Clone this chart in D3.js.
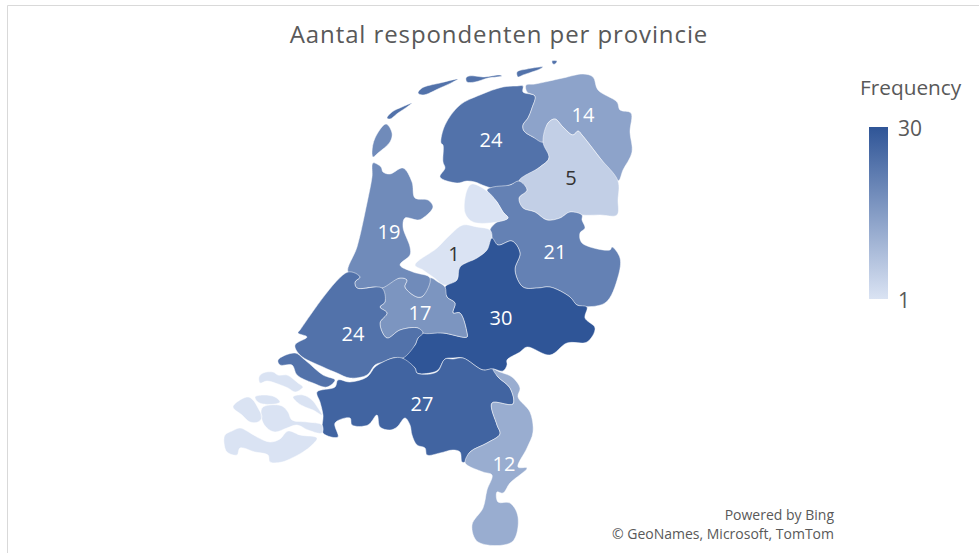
<!DOCTYPE html>
<html>
<head>
<meta charset="utf-8">
<script src="https://cdn.jsdelivr.net/npm/d3@7"></script>
<style>
  body { margin: 0; background: #fff; }
  text { font-family: "Open Sans", sans-serif; }
</style>
</head>
<body>
<div id="chart"></div>
<script>
// outlines are rough [lon, lat] rings
const friesland = [[[6.23,53.384],[6.23,53.348],[6.35,53.324],[6.32,53.252],[6.28,53.192],[6.23,53.15],[6.24,53.114],[6.33,53.078],[6.43,53.048],[6.49,52.952],[6.40,52.898],[6.19,52.814],[6.10,52.79],[5.97,52.766],[5.85,52.784],[5.75,52.808],[5.67,52.814],[5.57,52.802],[5.40,52.838],[5.45,52.892],[5.43,52.928],[5.43,53.03],[5.41,53.042],[5.45,53.15],[5.60,53.27],[5.80,53.33],[6.03,53.378],[6.17,53.384]],
  [[4.87,53.192],[4.92,53.228],[5.02,53.258],[5.12,53.282],[5.07,53.258],[4.98,53.222],[4.90,53.186]],
  [[5.18,53.342],[5.22,53.372],[5.40,53.402],[5.58,53.426],[5.53,53.408],[5.40,53.372],[5.23,53.33]],
  [[5.66,53.432],[5.69,53.444],[5.75,53.444],[5.83,53.438],[6.00,53.45],[6.02,53.444],[5.88,53.432],[5.75,53.408],[5.67,53.408]],
  [[6.17,53.468],[6.27,53.486],[6.43,53.498],[6.40,53.486],[6.23,53.45],[6.18,53.438]],
  [[6.52,53.534],[6.57,53.534],[6.55,53.516],[6.53,53.516]]]
const groningen = [[[6.26,53.39],[6.35,53.396],[6.63,53.432],[6.83,53.456],[6.93,53.438],[6.98,53.36],[7.17,53.288],[7.20,53.24],[7.31,53.222],[7.30,53.108],[7.32,52.988],[7.23,52.88],[7.18,52.814],[7.00,52.952],[6.82,53.09],[6.78,53.114],[6.73,53.09],[6.63,53.138],[6.55,53.186],[6.48,53.162],[6.43,53.048],[6.33,53.078],[6.24,53.114],[6.23,53.15],[6.28,53.192],[6.32,53.252],[6.35,53.324],[6.27,53.348]]]
const drenthe = [[[6.55,53.186],[6.63,53.138],[6.73,53.09],[6.78,53.114],[6.82,53.09],[7.00,52.952],[7.18,52.814],[7.18,52.70],[7.17,52.61],[7.00,52.61],[6.82,52.61],[6.70,52.628],[6.60,52.592],[6.47,52.58],[6.35,52.628],[6.23,52.652],[6.19,52.712],[6.27,52.76],[6.19,52.814],[6.40,52.898],[6.49,52.952],[6.43,53.048],[6.48,53.162]]]
const overijssel = [[[5.87,52.76],[5.93,52.778],[6.10,52.79],[6.19,52.814],[6.27,52.76],[6.19,52.712],[6.23,52.652],[6.35,52.628],[6.47,52.58],[6.60,52.592],[6.70,52.628],[6.82,52.61],[6.82,52.58],[6.85,52.532],[6.80,52.502],[6.82,52.442],[7.10,52.40],[7.12,52.418],[7.20,52.352],[7.18,52.238],[7.05,52.082],[6.77,52.07],[6.70,52.118],[6.50,52.178],[6.38,52.172],[6.23,52.178],[6.15,52.28],[6.20,52.382],[6.12,52.454],[5.98,52.43],[5.92,52.472],[5.90,52.52],[5.97,52.568],[6.08,52.592],[6.03,52.628],[5.97,52.688]]]
const flevoland = [[[5.67,52.76],[5.72,52.796],[5.87,52.754],[5.97,52.688],[6.03,52.628],[6.08,52.592],[5.97,52.568],[5.73,52.568],[5.65,52.622]],
  [[5.15,52.31],[5.37,52.412],[5.50,52.49],[5.63,52.55],[5.77,52.538],[5.90,52.52],[5.92,52.472],[5.87,52.40],[5.77,52.352],[5.60,52.298],[5.57,52.22],[5.45,52.19],[5.33,52.238],[5.23,52.28]]]
const gelderland = [[[5.45,52.178],[5.57,52.22],[5.60,52.298],[5.77,52.352],[5.87,52.40],[5.92,52.472],[5.98,52.43],[6.12,52.454],[6.20,52.382],[6.15,52.28],[6.23,52.178],[6.38,52.172],[6.50,52.178],[6.70,52.118],[6.77,52.07],[6.87,52.058],[6.85,51.992],[6.95,51.932],[6.87,51.848],[6.67,51.842],[6.50,51.77],[6.27,51.818],[6.20,51.788],[6.07,51.74],[6.07,51.71],[6.03,51.674],[5.93,51.686],[5.83,51.68],[5.63,51.752],[5.53,51.752],[5.45,51.746],[5.38,51.68],[5.30,51.662],[5.17,51.662],[5.15,51.692],[5.03,51.752],[5.15,51.83],[5.18,51.872],[5.23,51.902],[5.43,51.902],[5.67,51.878],[5.67,51.902],[5.60,52.022],[5.53,52.022],[5.55,52.082],[5.47,52.118]]]
const utrecht = [[[4.82,52.172],[5.00,52.232],[5.07,52.22],[5.05,52.178],[5.17,52.118],[5.23,52.124],[5.30,52.232],[5.38,52.208],[5.45,52.178],[5.47,52.118],[5.55,52.082],[5.53,52.022],[5.60,52.022],[5.67,51.902],[5.67,51.878],[5.43,51.902],[5.23,51.902],[5.18,51.932],[5.00,51.92],[4.87,51.872],[4.80,51.962],[4.87,52.022],[4.80,52.058],[4.85,52.088]]]
const noordHolland = [[[4.73,52.922],[4.81,52.898],[4.83,52.868],[4.90,52.856],[5.03,52.892],[5.12,52.808],[5.15,52.712],[5.28,52.70],[5.33,52.658],[5.23,52.592],[5.18,52.58],[5.05,52.592],[5.03,52.538],[5.10,52.418],[5.10,52.37],[5.00,52.31],[5.13,52.268],[5.30,52.232],[5.23,52.124],[5.17,52.118],[5.05,52.178],[5.07,52.22],[5.00,52.232],[4.82,52.172],[4.75,52.178],[4.57,52.172],[4.55,52.208],[4.60,52.238],[4.48,52.268],[4.57,52.418],[4.67,52.682],[4.72,52.838]],
  [[4.86,53.156],[4.92,53.102],[4.90,53.048],[4.78,52.982],[4.73,52.958],[4.72,52.988],[4.75,53.072]]]
const zuidHolland = [[[4.48,52.268],[4.60,52.238],[4.55,52.208],[4.57,52.172],[4.82,52.172],[4.85,52.088],[4.80,52.058],[4.87,52.022],[4.80,51.962],[4.87,51.872],[5.00,51.92],[5.18,51.932],[5.23,51.902],[5.18,51.872],[5.15,51.83],[5.03,51.752],[4.93,51.752],[4.83,51.728],[4.75,51.71],[4.67,51.65],[4.50,51.632],[4.37,51.662],[4.23,51.698],[4.00,51.77],[3.95,51.83],[4.07,51.878],[3.98,51.902],[4.00,51.92]],
  [[3.78,51.74],[3.95,51.782],[4.05,51.74],[4.23,51.65],[4.35,51.62],[4.27,51.578],[4.13,51.602],[3.97,51.65],[3.92,51.71],[3.80,51.71]]]
const brabant = [[[4.17,51.548],[4.35,51.578],[4.38,51.62],[4.50,51.608],[4.67,51.638],[4.75,51.698],[4.83,51.728],[4.93,51.752],[5.02,51.752],[5.15,51.692],[5.17,51.662],[5.30,51.656],[5.38,51.674],[5.45,51.746],[5.53,51.746],[5.63,51.752],[5.83,51.68],[5.93,51.686],[5.98,51.638],[6.10,51.572],[6.13,51.476],[5.92,51.482],[5.97,51.35],[6.00,51.296],[5.87,51.242],[5.70,51.188],[5.65,51.128],[5.62,51.128],[5.60,51.188],[5.53,51.20],[5.40,51.182],[5.27,51.17],[5.25,51.212],[5.17,51.23],[5.12,51.29],[5.10,51.35],[5.05,51.392],[4.97,51.338],[4.90,51.32],[4.80,51.338],[4.77,51.41],[4.68,51.35],[4.52,51.35],[4.50,51.392],[4.35,51.362],[4.38,51.278],[4.23,51.302],[4.23,51.41],[4.20,51.488]]]
const limburg = [[[5.93,51.686],[6.00,51.668],[6.12,51.638],[6.20,51.572],[6.18,51.518],[6.30,51.428],[6.33,51.308],[6.27,51.212],[6.18,51.098],[6.27,51.092],[6.10,51.002],[6.03,50.942],[5.97,50.948],[5.98,50.888],[6.10,50.882],[6.18,50.798],[6.12,50.648],[5.78,50.648],[5.72,50.75],[5.83,50.852],[5.87,50.96],[5.92,51.05],[5.83,51.068],[5.67,51.11],[5.65,51.128],[5.70,51.188],[5.87,51.242],[6.00,51.296],[5.97,51.35],[5.92,51.482],[6.13,51.476],[6.10,51.572],[5.98,51.638]]]
const zeeland = [[[3.59,51.638],[3.63,51.662],[3.73,51.668],[3.78,51.65],[3.87,51.65],[3.92,51.632],[3.98,51.602],[4.03,51.578],[4.00,51.56],[3.95,51.548],[3.88,51.572],[3.78,51.596],[3.67,51.614],[3.60,51.602]],
  [[3.93,51.518],[4.03,51.53],[4.12,51.5],[4.18,51.452],[4.22,51.41],[4.13,51.44],[4.05,51.458],[3.98,51.482]],
  [[3.55,51.518],[3.63,51.53],[3.75,51.518],[3.80,51.488],[3.75,51.476],[3.63,51.476],[3.58,51.488]],
  [[3.33,51.458],[3.40,51.5],[3.48,51.518],[3.53,51.5],[3.58,51.452],[3.62,51.398],[3.58,51.368],[3.50,51.368],[3.42,51.41]],
  [[3.62,51.452],[3.70,51.47],[3.82,51.464],[3.88,51.428],[3.92,51.38],[4.07,51.368],[4.22,51.35],[4.22,51.302],[4.08,51.32],[3.97,51.35],[3.87,51.332],[3.75,51.308],[3.67,51.332],[3.62,51.38]],
  [[3.25,51.29],[3.32,51.314],[3.40,51.332],[3.47,51.314],[3.57,51.278],[3.70,51.248],[3.80,51.266],[3.88,51.314],[4.00,51.29],[4.17,51.272],[4.12,51.23],[4.03,51.188],[3.92,51.152],[3.82,51.128],[3.70,51.128],[3.68,51.17],[3.55,51.188],[3.40,51.212],[3.37,51.17],[3.27,51.188],[3.24,51.242]]]

const provinceNames = ["Friesland", "Groningen", "Drenthe", "Overijssel", "Flevoland", "Gelderland", "Utrecht", "Noord-Holland", "Zuid-Holland", "Noord-Brabant", "Limburg", "Zeeland"]
const provinceValues = [24, 14, 5, 21, 1, 30, 17, 19, 24, 27, 12, 1]
const provinceRings = [friesland, groningen, drenthe, overijssel, flevoland, gelderland, utrecht, noordHolland, zuidHolland, brabant, limburg, zeeland]
// where the number sits, zeeland has none in the original
const labelLon = [5.91, 6.83, 6.71, 6.55, 5.54, 6.01, 5.20, 4.89, 4.53, 5.22, 6.04, null]
const labelLat = [53.06, 53.21, 52.832, 52.388, 52.376, 51.992, 52.022, 52.508, 51.896, 51.476, 51.116, null]
const legendTicks = [1, 30]

const width = 979
const height = 553

const svg = d3.select("#chart")
    .append("svg")
    .attr("width", width)
    .attr("height", height)
    .style("display", "block")

// chart frame, only top and left show in the screenshot
svg.append("path")
    .attr("d", `M7.5,${height} V5.5 H${width}`)
    .attr("fill", "none")
    .attr("stroke", "#d9d9d9")

const x = d3.scaleLinear().domain([1, 10.79]).range([0, 979])
const y = d3.scaleLinear().domain([53.9, 50.582]).range([0, 553])
const color = d3.scaleLinear().domain([1, 30]).range(["#dae3f3", "#2f5597"])

// smooth closed rings, the straight polygons looked too angular
const ringLine = d3.line()
    .x(d => x(d[0]))
    .y(d => y(d[1]))
    .curve(d3.curveCatmullRomClosed.alpha(0.5))

svg.append("g").selectAll("path")
    .data(provinceNames)
    .enter().append("path")
    .attr("d", (d, i) => provinceRings[i].map(ringLine).join(""))
    .attr("fill", (d, i) => color(provinceValues[i]))
    .attr("stroke", "#fff")
    .attr("stroke-opacity", 0.6)
    .attr("stroke-width", 0.8)

svg.append("g").selectAll("text")
    .data(provinceValues.filter((d, i) => labelLon[i] !== null))
    .enter().append("text")
    .attr("x", (d, i) => x(labelLon[i]))
    .attr("y", (d, i) => y(labelLat[i]))
    .attr("dy", "0.36em")
    .attr("text-anchor", "middle")
    .attr("font-size", 20)
    .attr("fill", d => d < 10 ? "#333" : "#fff")
    .text(d => d)

svg.append("text")
    .attr("x", 499)
    .attr("y", 43)
    .attr("text-anchor", "middle")
    .attr("font-size", 24)
    .attr("letter-spacing", 0.9)
    .attr("fill", "#595959")
    .text("Aantal respondenten per provincie")

// legend
const legendY = d3.scaleLinear().domain(d3.extent(legendTicks)).range([299, 127])

const grad = svg.append("defs").append("linearGradient")
    .attr("id", "legend-grad")
    .attr("x1", 0).attr("y1", 1).attr("x2", 0).attr("y2", 0)
grad.selectAll("stop")
    .data(legendTicks)
    .enter().append("stop")
    .attr("offset", (d, i) => i)
    .attr("stop-color", d => color(d))

svg.append("rect")
    .attr("x", 869)
    .attr("y", legendY(30))
    .attr("width", 19)
    .attr("height", legendY(1) - legendY(30))
    .attr("fill", "url(#legend-grad)")

svg.append("text")
    .attr("x", 860)
    .attr("y", 95)
    .attr("font-size", 20.8)
    .attr("fill", "#595959")
    .text("Frequency")

svg.append("g").selectAll("text")
    .data(legendTicks)
    .enter().append("text")
    .attr("x", 898)
    .attr("y", d => legendY(d) + 1)
    .attr("dy", "0.36em")
    .attr("font-size", 21)
    .attr("fill", "#595959")
    .text(d => d)

svg.append("text")
    .attr("x", 834)
    .attr("y", 520)
    .attr("text-anchor", "end")
    .attr("font-size", 14)
    .attr("fill", "#595959")
    .text("Powered by Bing")

svg.append("text")
    .attr("x", 834)
    .attr("y", 539)
    .attr("text-anchor", "end")
    .attr("font-size", 14)
    .attr("fill", "#595959")
    .text("© GeoNames, Microsoft, TomTom")
</script>
</body>
</html>
